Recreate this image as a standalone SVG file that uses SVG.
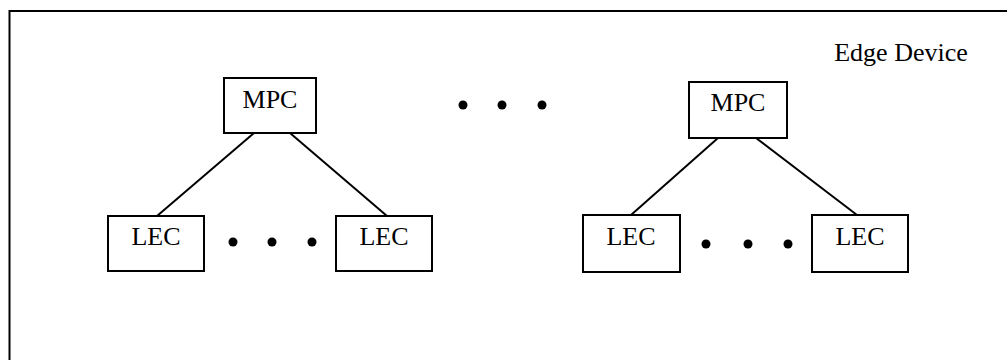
<svg xmlns="http://www.w3.org/2000/svg" width="1007" height="360" viewBox="0 0 1007 360">
<style>
.box{fill:#fff;stroke:#000;stroke-width:2}
.lbl{font-family:"Liberation Serif","Times New Roman",serif;font-size:26px;fill:#000;text-anchor:middle}
.conn{stroke:#000;stroke-width:2;fill:none}
.dot{fill:#000}
</style>
<rect width="1007" height="360" fill="#fff"/>
<g id="edge-device">
<rect x="9.5" y="11" width="1010" height="360" fill="none" stroke="#000" stroke-width="2"/>
<text x="901" y="61" class="lbl">Edge Device</text>
</g>
<g id="connectors">
<line class="conn" x1="254" y1="133" x2="157" y2="216"/>
<line class="conn" x1="290" y1="133" x2="387" y2="216"/>
<line class="conn" x1="718" y1="138" x2="631" y2="215"/>
<line class="conn" x1="756" y1="138" x2="857" y2="215"/>
</g>
<g id="mpc-left"><rect class="box" x="224" y="78" width="92" height="55"/><text x="270" y="108" class="lbl">MPC</text></g>
<g id="mpc-right"><rect class="box" x="689" y="82" width="98" height="56"/><text x="738" y="111" class="lbl">MPC</text></g>
<g id="lec-1"><rect class="box" x="108" y="216" width="96" height="55"/><text x="156" y="245" class="lbl">LEC</text></g>
<g id="lec-2"><rect class="box" x="336" y="216" width="96" height="55"/><text x="384" y="245" class="lbl">LEC</text></g>
<g id="lec-3"><rect class="box" x="583" y="215" width="97" height="57"/><text x="631" y="245" class="lbl">LEC</text></g>
<g id="lec-4"><rect class="box" x="812" y="215" width="96" height="57"/><text x="860" y="245" class="lbl">LEC</text></g>
<g id="ellipses">
<circle class="dot" cx="463" cy="105" r="4.5"/>
<circle class="dot" cx="502" cy="105" r="4.5"/>
<circle class="dot" cx="542" cy="105" r="4.5"/>
<circle class="dot" cx="233" cy="242" r="4.5"/>
<circle class="dot" cx="272" cy="242" r="4.5"/>
<circle class="dot" cx="312" cy="242" r="4.5"/>
<circle class="dot" cx="706" cy="244" r="4.5"/>
<circle class="dot" cx="748" cy="244" r="4.5"/>
<circle class="dot" cx="788" cy="244" r="4.5"/>
</g>
</svg>
